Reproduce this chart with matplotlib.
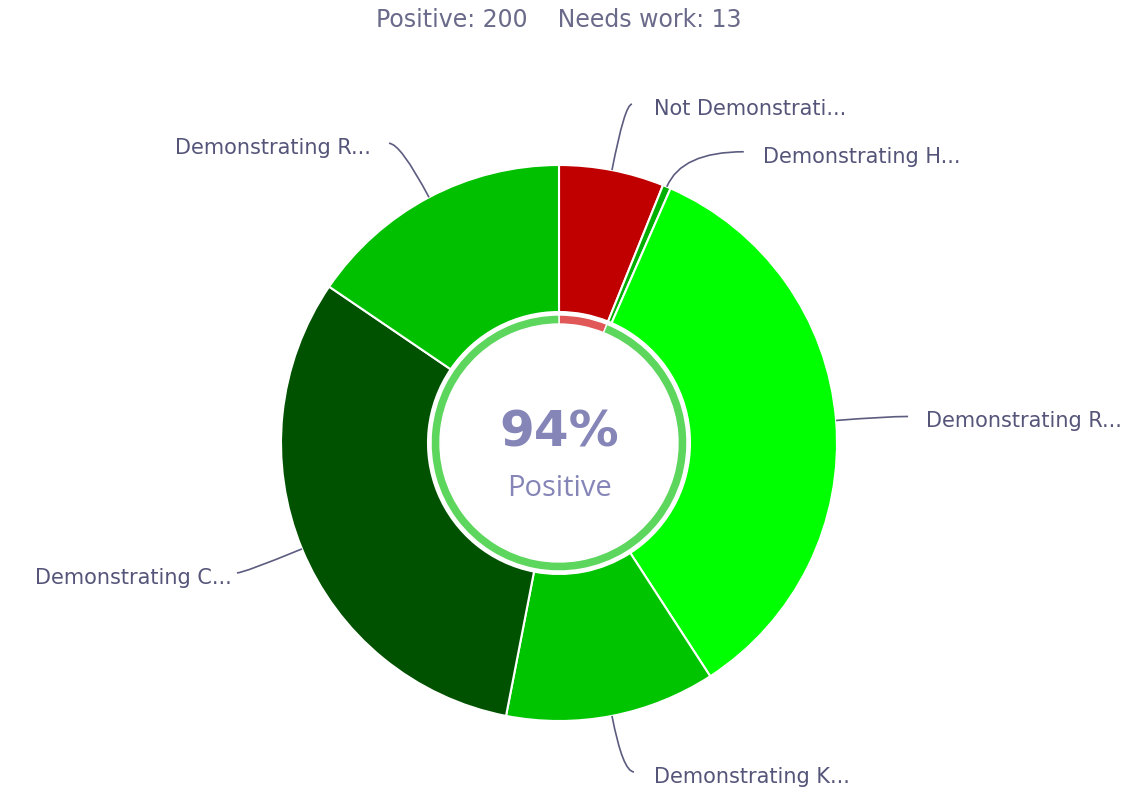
import numpy as np
import matplotlib.pyplot as plt
from matplotlib.path import Path
from matplotlib.patches import PathPatch

# slice data, clockwise from 12 o'clock
labels = ['Not Demonstrati...', 'Demonstrating H...', 'Demonstrating R...',
          'Demonstrating K...', 'Demonstrating C...', 'Demonstrating R...']
values = [13, 1, 73, 26, 67, 33]
colors = ['#c00000', '#00b000', '#00ff00', '#00c400', '#005200', '#00c000']
positive = 200
needs_work = 13

# label connector ends and text positions, pixel offsets from the slice anchor (x right, y down)
line_ends = [(20, -66), (77, -35), (72, -4), (22, 56), (-65, 24), (-40, -54)]
text_gap = [22, 19, 18, 20, -5, -18]

W, H = 1133, 797
fig = plt.figure(figsize=(W / 100, H / 100), dpi=100)
ax = fig.add_axes([0, 0, 1, 1])

cx, cy = 559, H - 443
R = 278
r_in = 131
txt_col = '#55557a'
line_col = '#5c5c80'

wedges, _ = ax.pie(values, colors=colors, startangle=90, counterclock=False,
                   radius=R, center=(cx, cy), frame=True,
                   wedgeprops=dict(width=R - r_in, edgecolor='white', linewidth=1.5))

# inner ring: needs work (red) vs positive (green)
ax.pie([needs_work, positive], colors=['#e05858', '#5cd65c'], startangle=90,
       counterclock=False, radius=128, center=(cx, cy), frame=True,
       wedgeprops=dict(width=9, edgecolor='white', linewidth=1))
ax.set_xlim(0, W)
ax.set_ylim(0, H)
ax.set_aspect('equal')
ax.axis('off')

for w, lab, (ex, ey), gap in zip(wedges, labels, line_ends, text_gap):
    mid = np.deg2rad((w.theta1 + w.theta2) / 2)
    d = np.array([np.cos(mid), np.sin(mid)])
    a = np.array([cx, cy]) + R * d
    end = a + np.array([ex, -ey])
    t = (end[1] - a[1]) / d[1] if abs(d[1]) > 0.05 else 50
    ctrl = a + t * d
    path = Path([a, ctrl, end], [Path.MOVETO, Path.CURVE3, Path.CURVE3])
    ax.add_patch(PathPatch(path, fill=False, ec=line_col, lw=1.2))
    ax.text(end[0] + gap, end[1] - 5, lab, fontsize=15, color=txt_col,
            ha='left' if gap > 0 else 'right', va='center', family='DejaVu Sans')

pct = round(100 * positive / (positive + needs_work))
ax.text(cx, H - 432, f'{pct}%', fontsize=36, fontweight='bold', color='#8585b8',
        ha='center', va='center', family='DejaVu Sans')
ax.text(cx, H - 488, 'Positive', fontsize=21, color='#8585b8',
        ha='center', va='center', family='Open Sans')

fig.text(559 / W, 1 - 20 / H, f'Positive: {positive}    Needs work: {needs_work}',
         fontsize=17, color='#6a6a8a', ha='center', va='center', family='DejaVu Sans')

fig.savefig('out.png', dpi=100, facecolor='white')
